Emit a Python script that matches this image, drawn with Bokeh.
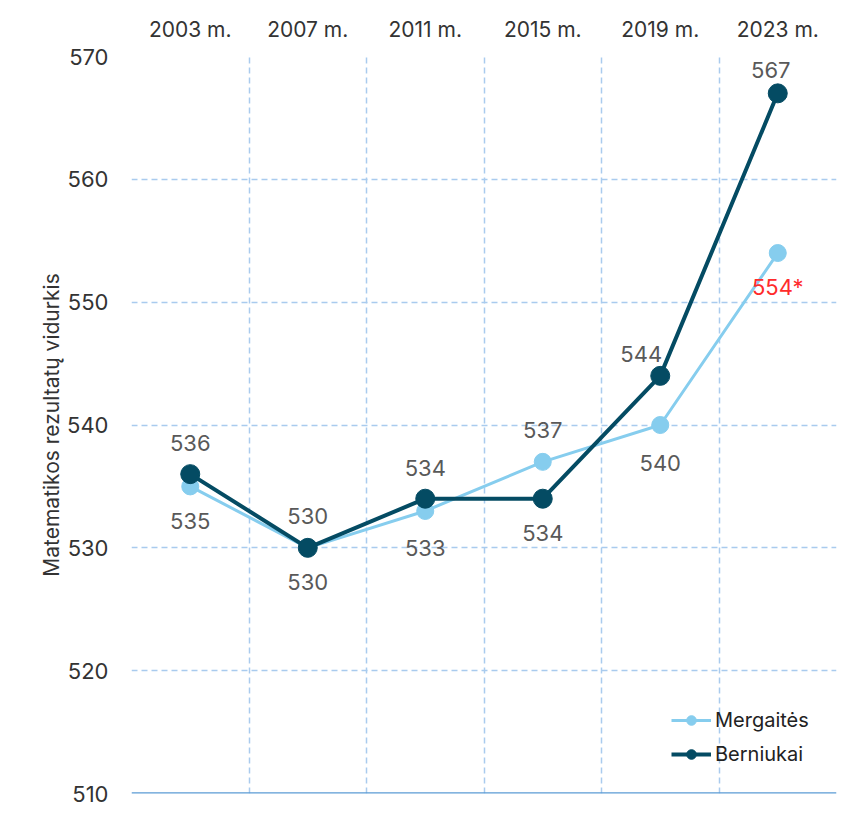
from bokeh.plotting import figure
from bokeh.models import (Range1d, FixedTicker, LinearAxis, Span, Legend, LegendItem,
                          ColumnDataSource)
from bokeh.core.properties import value
from bokeh.embed import file_html
from bokeh.resources import INLINE

years = ["2003 m.", "2007 m.", "2011 m.", "2015 m.", "2019 m.", "2023 m."]
girls = [535, 530, 533, 537, 540, 554]
boys = [536, 530, 534, 534, 544, 567]
girls_labels = ["535", "530", "533", "537", "540", "554*"]
boys_labels = ["536", "530", "534", "534", "544", "567"]
y_ticks = [510, 520, 530, 540, 550, 560, 570]

# label placement (pixels)
girls_dx = [0, 0, 0, 0, 0, 0]
girls_dy = [35, 34, 37, -32, 38, 34]
boys_dx = [0, 0, 0, 0, -19, -7]
boys_dy = [-31, -32, -31, 34, -22, -23]
girls_label_colors = ["#595959"] * 5 + ["#FF2B2B"]

GIRL_C = "#86CDEE"
BOY_C = "#044B63"
GRID_C = "#A9CBEE"
FONT = "Inter"

xs = [i + 0.5 for i in range(len(years))]

p = figure(width=837, height=807, output_backend="svg", toolbar_location=None,
           x_range=Range1d(0, len(years)), y_range=Range1d(y_ticks[0], y_ticks[-1]),
           min_border_left=131, min_border_right=1, min_border_top=56, min_border_bottom=14,
           x_axis_location=None)
p.outline_line_color = None
p.background_fill_color = "white"

# grids
p.xgrid.ticker = FixedTicker(ticks=list(range(len(years) + 1)))
p.ygrid.ticker = FixedTicker(ticks=y_ticks)
for g in (p.xgrid[0], p.ygrid[0]):
    g.grid_line_color = GRID_C
    g.grid_line_dash = "6 4"
    g.grid_line_width = 1.5

p.add_layout(Span(location=y_ticks[0], dimension="width", line_color="#5B9BD5", line_width=2.5))

# y axis
ya = p.yaxis[0]
ya.ticker = FixedTicker(ticks=y_ticks)
ya.axis_line_color = None
ya.major_tick_line_color = None
ya.minor_tick_line_color = None
ya.major_label_standoff = 17
ya.major_label_text_font = FONT
ya.major_label_text_font_size = "22px"
ya.major_label_text_font_style = "normal"
ya.major_label_text_color = "#333333"
ya.axis_label = "Matematikos rezultatų vidurkis"
ya.axis_label_text_font = FONT
ya.axis_label_text_font_style = "normal"
ya.axis_label_text_font_size = "21px"
ya.axis_label_text_color = "#333333"
ya.axis_label_standoff = 0

# top category axis
ta = LinearAxis(ticker=FixedTicker(ticks=xs),
                major_label_overrides={x: y for x, y in zip(xs, years)})
ta.axis_line_color = None
ta.major_tick_line_color = None
ta.minor_tick_line_color = None
ta.major_label_standoff = 9
ta.major_label_text_font = FONT
ta.major_label_text_font_style = "normal"
ta.major_label_text_font_size = "21px"
ta.major_label_text_color = "#333333"
p.add_layout(ta, "above")

# lines
lg = p.line(xs, girls, line_color=GIRL_C, line_width=3)
cg = p.scatter(xs, girls, size=17, fill_color=GIRL_C, line_color=GIRL_C)
lb = p.line(xs, boys, line_color=BOY_C, line_width=4)
cb = p.scatter(xs, boys, size=19, fill_color=BOY_C, line_color=BOY_C)

# labels
gsrc = ColumnDataSource(dict(x=xs, y=girls, t=girls_labels, dx=girls_dx, dy=girls_dy, c=girls_label_colors))
bsrc = ColumnDataSource(dict(x=xs, y=boys, t=boys_labels, dx=boys_dx, dy=boys_dy))
p.text(x="x", y="y", text="t", x_offset="dx", y_offset="dy", source=gsrc,
       text_align="center", text_baseline="middle", text_font=value(FONT),
       text_font_size="22px", text_color="c")
p.text(x="x", y="y", text="t", x_offset="dx", y_offset="dy", source=bsrc,
       text_align="center", text_baseline="middle", text_font=value(FONT),
       text_font_size="22px", text_color="#595959")

legend = Legend(items=[LegendItem(label="Mergaitės", renderers=[lg, cg]),
                       LegendItem(label="Berniukai", renderers=[lb, cb])],
                location=(540, 27))
legend.background_fill_alpha = 0
legend.border_line_color = None
legend.label_text_font = FONT
legend.label_text_font_size = "20px"
legend.label_text_color = "#222222"
legend.glyph_width = 40
legend.glyph_height = 24
legend.label_standoff = 4
legend.spacing = 10
legend.margin = 0
legend.padding = 4
p.add_layout(legend)

open("out.html", "w").write(file_html(p, INLINE))
